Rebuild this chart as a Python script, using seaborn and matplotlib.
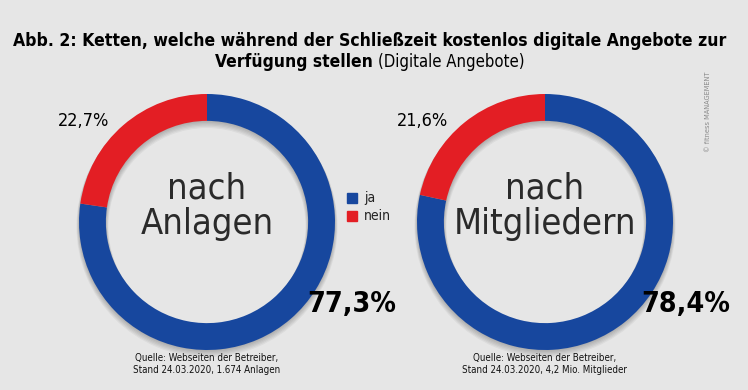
import matplotlib
matplotlib.use('Agg')
import matplotlib.pyplot as plt
from matplotlib.patches import Wedge
import seaborn as sns

## Daten
kategorien = ['ja', 'nein']
anlagen = [77.3, 22.7]
mitglieder = [78.4, 21.6]
mitte_texte = ['nach\nAnlagen', 'nach\nMitgliedern']
quellen = ['Quelle: Webseiten der Betreiber,\nStand 24.03.2020, 1.674 Anlagen',
           'Quelle: Webseiten der Betreiber,\nStand 24.03.2020, 4,2 Mio. Mitglieder']

sns.set_theme(style='white')
farben = sns.color_palette(['#17479e', '#e31e24'])
bg = '#e6e6e6'
plt.rcParams['font.family'] = ['DejaVu Sans']
plt.rcParams['font.stretch'] = 'condensed'

fig = plt.figure(figsize=(7.48, 3.90), dpi=100, facecolor=bg)

def fmt(v):
    return f'{v:.1f}%'.replace('.', ',')

# positionen in pixel (mitte x, mitte y von oben, radius)
kreise = [(207, 222, 128), (545, 222, 128)]
werte_liste = [anlagen, mitglieder]
gross_x = [352, 686]
breite = 0.21
for (cx, cy, r), werte, mtext, quelle, gx in zip(kreise, werte_liste, mitte_texte, quellen, gross_x):
    ax = fig.add_axes([(cx - r * 1.1) / 748, (390 - cy - r * 1.1) / 390,
                       2.2 * r / 748, 2.2 * r / 390])
    ax.set_facecolor(bg)
    # weicher schatten unter dem ring
    for k in range(6):
        off = 0.006 * (k + 1)
        ax.add_patch(Wedge((0, -off), 1 + 0.004 * k, 0, 360, width=breite + 0.008 * k,
                           facecolor='#000000', alpha=0.045, edgecolor='none', zorder=0.5))
    ax.pie(werte, colors=farben, startangle=90, counterclock=False, radius=1,
           wedgeprops=dict(width=breite, edgecolor='none', zorder=2))
    ax.set_xlim(-1.1, 1.1)
    ax.set_ylim(-1.1, 1.1)
    ax.set_aspect('equal')
    ax.axis('off')
    ax.text(0, 0.12, mtext, ha='center', va='center', fontsize=26, color='#2a2a2a',
            linespacing=1.05, zorder=3)
    # prozentwerte
    fig.text(gx / 748, 1 - 304 / 390, fmt(werte[0]), ha='center', va='center',
             fontsize=20.5, fontweight='bold', color='black')
    fig.text((cx - 123) / 748, 1 - 121 / 390, fmt(werte[1]), ha='center', va='center',
             fontsize=13, color='black')
    fig.text(cx / 748, 1 - 364 / 390, quelle, ha='center', va='center', fontsize=7,
             color='#111111', linespacing=1.35)

# legende
for i, k in enumerate(kategorien):
    y = 1 - (198 + i * 18) / 390
    fig.patches.append(plt.Rectangle((347 / 748, y - 5 / 390), 10 / 748, 10 / 390,
                                     transform=fig.transFigure, color=farben[i]))
    fig.text(364 / 748, y, k, ha='left', va='center', fontsize=10, color='#222222')

# titel
fig.text(370 / 748, 1 - 41 / 390,
         'Abb. 2: Ketten, welche während der Schließzeit kostenlos digitale Angebote zur',
         ha='center', va='center', fontsize=12.6, fontweight='bold', color='black')
fig.text(373 / 748, 1 - 62 / 390, 'Verfügung stellen', ha='right', va='center',
         fontsize=12.5, fontweight='bold', color='black')
fig.text(378 / 748, 1 - 62 / 390, '(Digitale Angebote)', ha='left', va='center',
         fontsize=12, color='black')

fig.text(708 / 748, 1 - 112 / 390, '© fitness MANAGEMENT', rotation=90, ha='center',
         va='center', fontsize=5.3, color='#8a8a8a')

fig.savefig('out.png', dpi=100, facecolor=bg)
